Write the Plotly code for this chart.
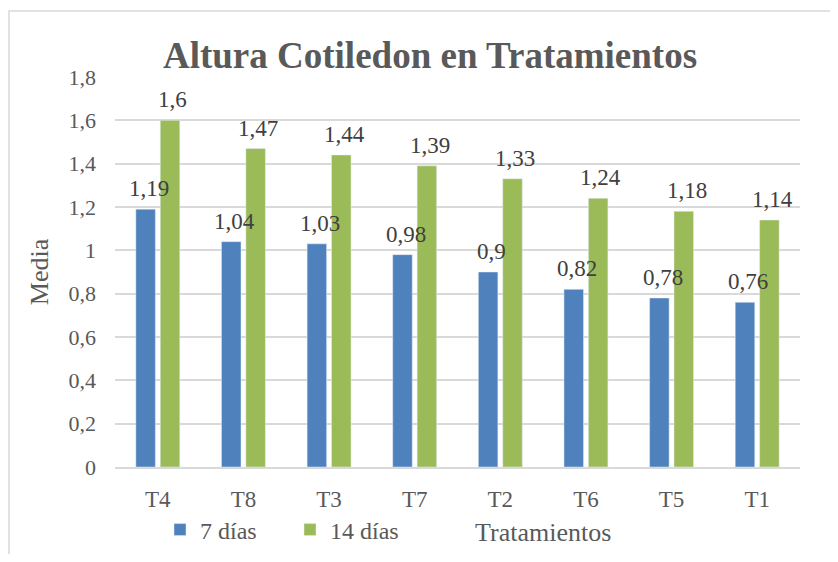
import plotly.graph_objects as go

tratamientos = ["T4", "T8", "T3", "T7", "T2", "T6", "T5", "T1"]
dias_7 = [1.19, 1.04, 1.03, 0.98, 0.90, 0.82, 0.78, 0.76]
dias_14 = [1.60, 1.47, 1.44, 1.39, 1.33, 1.24, 1.18, 1.14]
y_ticks = [0, 0.2, 0.4, 0.6, 0.8, 1, 1.2, 1.4, 1.6, 1.8]


def coma(v):
    return ("%g" % v).replace(".", ",")


FONT = "Liberation Serif, Times New Roman, serif"
GRIS = "#595959"

# the page body has an 8px margin, so the figure is a bit smaller than the window
W, H = 822, 546

fig = go.Figure()
fig.add_trace(go.Bar(x=tratamientos, y=dias_7, name="7 días", marker_color="#4F81BD"))
fig.add_trace(go.Bar(x=tratamientos, y=dias_14, name="14 días", marker_color="#9BBB59"))

# etiquetas de datos encima de cada barra
for vals, dx in ((dias_7, -12), (dias_14, 12)):
    for cat, v in zip(tratamientos, vals):
        fig.add_annotation(x=cat, y=v, text=coma(v), showarrow=False,
                           xshift=dx + 3, yshift=6, yanchor="bottom",
                           font=dict(size=23, color="#404040", family=FONT))

fig.update_layout(
    width=W, height=H,
    margin=dict(l=107, r=30, t=69, b=87, autoexpand=False),
    paper_bgcolor="white", plot_bgcolor="white",
    font=dict(family=FONT, color=GRIS, size=22),
    barmode="group", bargap=0.43, bargroupgap=0.2,
    title=dict(text="<b>Altura Cotiledon en Tratamientos</b>",
               x=(430 - 8) / W, xanchor="center", y=1 - (55 - 8) / H, yanchor="middle",
               font=dict(size=37, color=GRIS, family=FONT)),
    showlegend=True,
    legend=dict(orientation="h", x=(160 - 115) / 685, xanchor="left",
                y=-(530 - 467) / 390, yanchor="middle",
                entrywidth=85, entrywidthmode="pixels",
                font=dict(size=24, color=GRIS, family=FONT),
                bgcolor="rgba(0,0,0,0)", traceorder="normal"),
)

fig.update_yaxes(
    range=[0, 1.8], tickvals=y_ticks, ticktext=[coma(v) for v in y_ticks],
    showgrid=True, gridcolor="#D9D9D9", gridwidth=1.5,
    zeroline=False, showline=False, automargin=False,
    ticklabelstandoff=18,
    tickfont=dict(size=22, color=GRIS),
    title=dict(text="Media", font=dict(size=26, color=GRIS), standoff=12),
)
fig.update_xaxes(
    showgrid=False, showline=True, linecolor="#D9D9D9", linewidth=1.5,
    automargin=False, ticklabelstandoff=11,
    tickfont=dict(size=23, color=GRIS),
)

fig.add_annotation(text="Tratamientos", xref="paper", yref="paper",
                   x=(543 - 115) / 685, y=-(532 - 467) / 390,
                   xanchor="center", yanchor="middle", showarrow=False,
                   font=dict(size=26, color=GRIS, family=FONT))

# marco del grafico
fig.add_shape(type="rect", xref="paper", yref="paper",
              x0=(9 - 115) / 685, x1=1.2, y0=-0.4, y1=(467 - 11) / 390,
              line=dict(color="#D9D9D9", width=1.5), layer="below")

fig.write_html("out.html")
